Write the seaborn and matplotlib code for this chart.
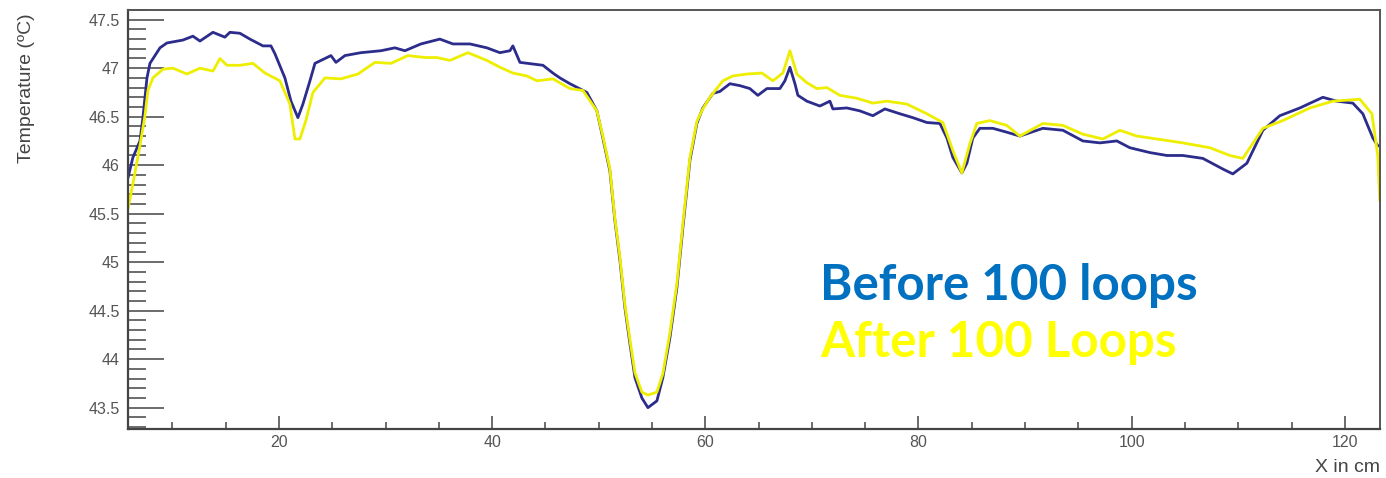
import matplotlib
matplotlib.use("Agg")
import matplotlib.pyplot as plt
from matplotlib.ticker import MultipleLocator
import seaborn as sns
import pandas as pd

# ---- data ----
before_x = [5.84, 6.30, 6.96, 7.24, 7.62, 7.90, 8.84, 9.49, 10.99, 11.93, 12.59, 13.81,
            14.93, 15.40, 16.34, 17.28, 18.50, 19.25, 19.62, 20.56, 21.13, 21.78, 22.25,
            22.91, 23.38, 24.32, 24.88, 25.35, 26.19, 27.69, 29.57, 30.88, 31.82, 33.32,
            35.10, 36.32, 37.92, 39.51, 40.73, 41.67, 41.95, 42.61, 44.77, 45.70, 46.36,
            47.30, 48.89, 49.83, 50.39, 51.05, 51.52, 51.99, 52.46, 52.93, 53.40, 54.05,
            54.62, 55.46, 56.02, 56.68, 57.34, 57.90, 58.56, 59.21, 59.77, 60.71, 61.37,
            62.31, 63.25, 64.18, 64.93, 65.78, 67.00, 67.47, 67.94, 68.41, 68.69, 69.53,
            70.75, 71.69, 71.97, 73.28, 74.50, 75.72, 76.85, 78.26, 79.47, 80.79, 82.01,
            82.67, 83.23, 84.07, 84.54, 85.10, 85.76, 86.98, 88.29, 89.51, 91.67, 93.55,
            95.42, 97.02, 98.61, 99.83, 101.71, 103.30, 104.80, 106.68, 108.56, 109.49,
            110.81, 112.31, 113.90, 115.78, 117.94, 119.25, 120.75, 121.69, 122.63, 123.09,
            123.28]
before_t = [45.87, 46.08, 46.25, 46.49, 46.90, 47.05, 47.21, 47.26, 47.29, 47.33, 47.28, 47.37,
            47.32, 47.37, 47.36, 47.30, 47.23, 47.23, 47.15, 46.90, 46.66, 46.49, 46.63,
            46.87, 47.05, 47.10, 47.13, 47.06, 47.13, 47.16, 47.18, 47.21, 47.18, 47.25,
            47.30, 47.25, 47.25, 47.21, 47.16, 47.18, 47.23, 47.06, 47.03, 46.95, 46.90,
            46.84, 46.75, 46.56, 46.28, 45.94, 45.43, 45.02, 44.53, 44.16, 43.81, 43.60,
            43.50, 43.57, 43.81, 44.22, 44.74, 45.36, 46.05, 46.43, 46.59, 46.74, 46.76,
            46.84, 46.82, 46.79, 46.72, 46.79, 46.79, 46.87, 47.01, 46.84, 46.72, 46.66,
            46.61, 46.66, 46.58, 46.59, 46.56, 46.51, 46.58, 46.53, 46.49, 46.44, 46.43,
            46.28, 46.08, 45.92, 46.02, 46.28, 46.38, 46.38, 46.34, 46.30, 46.38, 46.36,
            46.25, 46.23, 46.25, 46.18, 46.13, 46.10, 46.10, 46.07, 45.96, 45.91,
            46.02, 46.36, 46.51, 46.59, 46.70, 46.66, 46.64, 46.53, 46.28, 46.20,
            46.20]

after_x = [5.84, 6.30, 6.96, 7.43, 7.71, 8.18, 9.12, 10.06, 11.37, 12.59, 13.81, 14.47,
           15.12, 16.34, 17.56, 18.69, 20.09, 21.03, 21.50, 21.97, 22.53, 23.19, 24.32,
           25.82, 27.41, 29.01, 30.51, 32.10, 33.70, 34.82, 36.04, 37.73, 39.51, 40.73,
           41.95, 43.26, 44.20, 45.70, 47.30, 48.52, 49.83, 50.39, 51.05, 51.52, 51.99,
           52.46, 52.93, 53.40, 54.05, 54.62, 55.46, 56.02, 56.68, 57.34, 57.90, 58.56,
           59.21, 59.77, 60.43, 61.65, 62.59, 63.90, 65.31, 66.34, 67.28, 67.94, 68.59,
           69.53, 70.47, 71.41, 72.63, 74.22, 75.72, 77.04, 78.91, 80.79, 82.29, 83.23,
           84.07, 84.82, 85.47, 86.70, 88.29, 89.51, 91.67, 93.55, 95.42, 97.30, 98.89,
           100.49, 102.36, 104.80, 107.34, 109.21, 110.43, 112.31, 114.18, 116.72, 118.88,
           121.41, 122.54, 123.09, 123.28]
after_t = [45.55, 45.81, 46.20, 46.51, 46.77, 46.90, 46.99, 47.00, 46.94, 47.00, 46.97, 47.10,
           47.03, 47.03, 47.05, 46.95, 46.87, 46.63, 46.27, 46.27, 46.46, 46.75, 46.90,
           46.89, 46.94, 47.06, 47.05, 47.13, 47.11, 47.11, 47.08, 47.16, 47.08, 47.01,
           46.95, 46.92, 46.87, 46.89, 46.79, 46.77, 46.56, 46.30, 45.96, 45.45, 45.05,
           44.56, 44.20, 43.86, 43.66, 43.63, 43.66, 43.85, 44.27, 44.78, 45.40, 46.08,
           46.45, 46.58, 46.70, 46.87, 46.92, 46.94, 46.95, 46.87, 46.95, 47.18, 46.94,
           46.85, 46.79, 46.80, 46.72, 46.69, 46.64, 46.66, 46.63, 46.53, 46.44, 46.15,
           45.92, 46.22, 46.43, 46.46, 46.41, 46.30, 46.43, 46.41, 46.32, 46.27, 46.36,
           46.30, 46.27, 46.23, 46.18, 46.10, 46.07, 46.38, 46.46, 46.59, 46.66,
           46.68, 46.53, 46.10, 45.63]

series_labels = ["Before 100 loops", "After 100 Loops"]
x_ticks = [20, 40, 60, 80, 100, 120]
y_ticks = [43.5, 44, 44.5, 45, 45.5, 46, 46.5, 47, 47.5]
y_tick_labels = ["43.5", "44", "44.5", "45", "45.5", "46", "46.5", "47", "47.5"]

df = pd.concat([
    pd.DataFrame({"x": before_x, "T": before_t, "run": series_labels[0]}),
    pd.DataFrame({"x": after_x, "T": after_t, "run": series_labels[1]}),
], ignore_index=True)

sns.set_style("white")
plt.rcParams["font.family"] = ["Liberation Sans", "DejaVu Sans"]

fig = plt.figure(figsize=(13.86, 4.78), dpi=100)
ax = fig.add_axes([128 / 1386, 49 / 478, (1380 - 128) / 1386, (429 - 10) / 478])

palette = {series_labels[0]: "#2C2C8C", series_labels[1]: "#EEEE00"}
sns.lineplot(data=df, x="x", y="T", hue="run", palette=palette, estimator=None,
             sort=False, linewidth=2.0, legend=False, ax=ax)

ax.set_xlim(5.84, 123.3)
ax.set_ylim(43.28, 47.6)
ax.set_xticks(x_ticks)
ax.set_xticklabels([str(v) for v in x_ticks])
ax.set_yticks(y_ticks)
ax.set_yticklabels(y_tick_labels)
ax.xaxis.set_minor_locator(MultipleLocator(5))
ax.yaxis.set_minor_locator(MultipleLocator(0.1))

ax.tick_params(axis="x", which="major", direction="in", length=9.5, width=1.1,
               color="#444444", labelsize=11.5, labelcolor="#555555", pad=4,
               bottom=True, top=False)
ax.tick_params(axis="x", which="minor", direction="in", length=5, width=1.1,
               color="#444444", bottom=True, top=False)
ax.tick_params(axis="y", which="major", direction="in", length=26, width=1.1,
               color="#444444", labelsize=11.5, labelcolor="#555555", pad=6,
               left=True, right=False)
ax.tick_params(axis="y", which="minor", direction="in", length=13, width=1.1,
               color="#444444", left=True, right=False)

for side in ["left", "bottom"]:
    ax.spines[side].set_color("#444444")
    ax.spines[side].set_linewidth(1.6)
for side in ["top", "right"]:
    ax.spines[side].set_visible(True)
    ax.spines[side].set_color("#555555")
    ax.spines[side].set_linewidth(1.4)

ax.set_xlabel("")
ax.set_ylabel("")
fig.text(27 / 1386, 1 - 88 / 478, "Temperature (ºC)", rotation=90, ha="center",
         va="center", fontsize=14, color="#444444")
fig.text(1380 / 1386, 1 - 467 / 478, "X in cm", ha="right", va="center",
         fontsize=14, color="#444444")

ax.text(820 / 1386, 1 - 300 / 478, series_labels[0], transform=fig.transFigure,
        ha="left", va="baseline", fontsize=35.5, fontweight="bold", color="#0070C0",
        family=["Lato", "DejaVu Sans"])
ax.text(820 / 1386, 1 - 357 / 478, series_labels[1], transform=fig.transFigure,
        ha="left", va="baseline", fontsize=35.5, fontweight="bold", color="#FFFF00",
        family=["Lato", "DejaVu Sans"])

fig.savefig("out.png", dpi=100, facecolor="white")
